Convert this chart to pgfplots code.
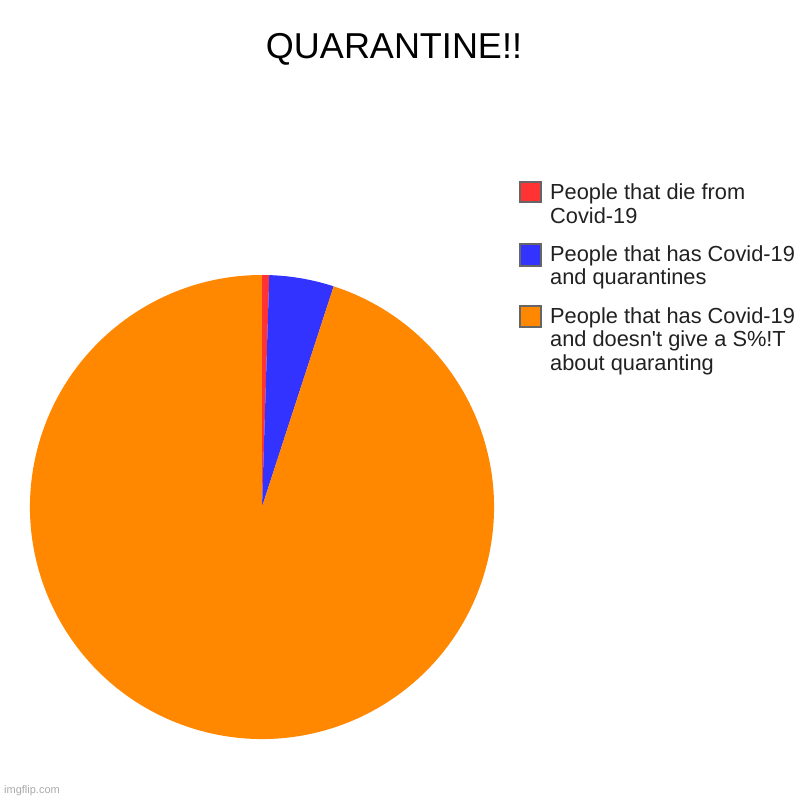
\documentclass[border=0pt]{standalone}
\usepackage{fontspec}
\setmainfont{Liberation Sans}
\usepackage{pgfplots}
\usepackage{pgfplotstable}
\pgfplotsset{compat=1.18}

\definecolor{pred}{HTML}{FF3333}
\definecolor{pblue}{HTML}{3333FF}
\definecolor{porange}{HTML}{FF8800}
\definecolor{keyedge}{HTML}{666666}
\definecolor{wmark}{HTML}{AAAAAA}

% share of each slice, in percent (clockwise from the top)
\pgfplotstableread{
value
0.5
4.5
95
}\piedata

\pgfplotstablegetelem{0}{value}\of\piedata \let\va\pgfplotsretval
\pgfplotstablegetelem{1}{value}\of\piedata \let\vb\pgfplotsretval
\pgfplotstablegetelem{2}{value}\of\piedata \let\vc\pgfplotsretval
\pgfmathsetmacro\total{\va+\vb+\vc}
\pgfmathsetmacro\angA{90-\va/\total*360}
\pgfmathsetmacro\angB{\angA-\vb/\total*360}
\pgfmathsetmacro\angC{\angB-\vc/\total*360}

\newcommand\legtext{\fontsize{21.8}{23.5}\selectfont}

\begin{document}
\begin{tikzpicture}
\begin{axis}[
    width=800pt, height=800pt,
    scale only axis,
    hide axis,
    clip=false,
    xmin=0, xmax=800, ymin=0, ymax=800,
]
  \fill[white] (axis cs:0,0) rectangle (axis cs:800,800);

  % pie, centre (262,293), radius 232
  \fill[pred] (axis cs:262,293) -- ++(90:232pt)
      arc[start angle=90, end angle=\angA, radius=232pt] -- cycle;
  \fill[pblue] (axis cs:262,293) -- ++(\angA:232pt)
      arc[start angle=\angA, end angle=\angB, radius=232pt] -- cycle;
  \fill[porange] (axis cs:262,293) -- ++(\angB:232pt)
      arc[start angle=\angB, end angle=\angC, radius=232pt] -- cycle;

  % title
  \node[anchor=base, font=\fontsize{36}{43}\selectfont]
      at (axis cs:394,741) {QUARANTINE!!};

  % legend
  \filldraw[fill=pred, draw=keyedge, line width=1.5pt]
      (axis cs:519.8,597.8) rectangle (axis cs:540.8,618.2);
  \filldraw[fill=pblue, draw=keyedge, line width=1.5pt]
      (axis cs:519.8,534.2) rectangle (axis cs:540.8,556.2);
  \filldraw[fill=porange, draw=keyedge, line width=1.5pt]
      (axis cs:519.8,473) rectangle (axis cs:540.8,494.2);

  \node[anchor=base west, inner sep=0pt, text=black!87, font=\legtext]
      at (axis cs:550,600) {People that die from};
  \node[anchor=base west, inner sep=0pt, text=black!87, font=\legtext]
      at (axis cs:550,576.6) {Covid-19};
  \node[anchor=base west, inner sep=0pt, text=black!87, font=\legtext]
      at (axis cs:550,538.3) {People that has Covid-19};
  \node[anchor=base west, inner sep=0pt, text=black!87, font=\legtext]
      at (axis cs:550,515) {and quarantines};
  \node[anchor=base west, inner sep=0pt, text=black!87, font=\legtext]
      at (axis cs:550,476.7) {People that has Covid-19};
  \node[anchor=base west, inner sep=0pt, text=black!87, font=\legtext]
      at (axis cs:550,453.3) {and doesn\textquotesingle t give a S\%!T};
  \node[anchor=base west, inner sep=0pt, text=black!87, font=\legtext]
      at (axis cs:550,429) {about quaranting};

  % watermark
  \node[anchor=base west, inner sep=0pt, text=wmark, font=\fontsize{11}{13}\selectfont]
      at (axis cs:4,6) {imgflip.com};
\end{axis}
\end{tikzpicture}
\end{document}
